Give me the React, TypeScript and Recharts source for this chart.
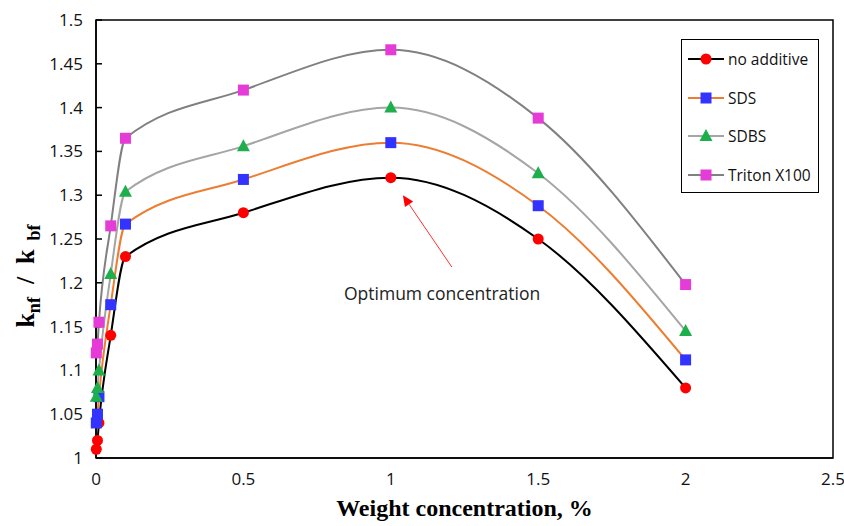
import React from 'react'
import {
  LineChart,
  Line,
  XAxis,
  YAxis,
  ReferenceArea,
  ReferenceLine,
  ReferenceDot,
} from 'recharts'

const concentrations = [0.001, 0.005, 0.01, 0.05, 0.1, 0.5, 1, 1.5, 2]
const noAdditive = [1.01, 1.02, 1.04, 1.14, 1.23, 1.28, 1.32, 1.25, 1.08]
const sds = [1.04, 1.05, 1.07, 1.175, 1.267, 1.318, 1.36, 1.288, 1.112]
const sdbs = [1.07, 1.08, 1.1, 1.21, 1.304, 1.356, 1.4, 1.325, 1.145]
const triton = [1.12, 1.13, 1.155, 1.265, 1.365, 1.42, 1.466, 1.388, 1.198]

const xTicks = [0, 0.5, 1, 1.5, 2, 2.5]
const yTicks = [1, 1.05, 1.1, 1.15, 1.2, 1.25, 1.3, 1.35, 1.4, 1.45, 1.5]

const data = concentrations.map((x, i) => ({
  x,
  noAdditive: noAdditive[i],
  sds: sds[i],
  sdbs: sdbs[i],
  triton: triton[i],
}))

type Marker = 'circle' | 'square' | 'triangle'

const series: { key: string; name: string; line: string; fill: string; marker: Marker }[] = [
  { key: 'noAdditive', name: 'no additive', line: '#000000', fill: '#FF0000', marker: 'circle' },
  { key: 'sds', name: 'SDS', line: '#ED7D31', fill: '#3333FF', marker: 'square' },
  { key: 'sdbs', name: 'SDBS', line: '#A5A5A5', fill: '#1DAF4C', marker: 'triangle' },
  { key: 'triton', name: 'Triton X100', line: '#808080', fill: '#E63CD7', marker: 'square' },
]

function drawMarker(kind: Marker, cx: number, cy: number, fill: string, key?: any) {
  if (kind === 'circle') return <circle key={key} cx={cx} cy={cy} r={5.5} fill={fill} />
  if (kind === 'square')
    return <rect key={key} x={cx - 5.5} y={cy - 5.5} width={11} height={11} fill={fill} />
  return (
    <polygon
      key={key}
      points={`${cx},${cy - 7} ${cx + 6.5},${cy + 5} ${cx - 6.5},${cy + 5}`}
      fill={fill}
    />
  )
}

const fmt = (v: number) => String(Math.round(v * 100) / 100)

const tickFont = { fill: '#111', fontSize: 17, fontFamily: '"Open Sans", sans-serif' }

function LegendBox() {
  return (
    <div
      style={{
        position: 'absolute',
        left: 681,
        top: 39,
        border: '1.5px solid #000',
        background: '#fff',
        width: 138,
        height: 154,
        boxSizing: 'border-box',
        fontFamily: '"Open Sans", sans-serif',
        fontSize: 15.5,
        color: '#111',
      }}
    >
      {series.map((s) => (
        <div key={s.key} style={{ display: 'flex', alignItems: 'center', height: 38.5, paddingLeft: 5 }}>
          <svg width={38} height={16} style={{ marginRight: 3 }}>
            <line x1={1} y1={8} x2={37} y2={8} stroke={s.line} strokeWidth={2} />
            {drawMarker(s.marker, 19, 8, s.fill)}
          </svg>
          <span>{s.name}</span>
        </div>
      ))}
    </div>
  )
}

function YLabel() {
  return (
    <text
      x={0}
      y={0}
      transform="translate(34, 276) rotate(-90)"
      textAnchor="middle"
      fontFamily='"Liberation Serif", serif'
      fontWeight="bold"
      fontSize={26}
      fill="#000"
      style={{ whiteSpace: 'pre' }}
    >
      k<tspan fontSize={18} dy={6}>nf</tspan>
      <tspan dy={-6}>{'  /  k'}</tspan>
      <tspan fontSize={18} dy={6}>{'  bf'}</tspan>
    </text>
  )
}

function Arrow(props: any) {
  const { x1, y1, x2, y2 } = props
  const ang = Math.atan2(y2 - y1, x2 - x1)
  const len = 11
  const w = 5
  const bx = x2 - len * Math.cos(ang)
  const by = y2 - len * Math.sin(ang)
  const px = -Math.sin(ang) * w
  const py = Math.cos(ang) * w
  return (
    <g>
      <line x1={x1} y1={y1} x2={bx} y2={by} stroke="#FF3030" strokeWidth={1} />
      <polygon points={`${x2},${y2} ${bx + px},${by + py} ${bx - px},${by - py}`} fill="#FF0000" />
    </g>
  )
}

export default function App() {
  return (
    <div style={{ position: 'absolute', left: 0, top: 0, width: 844, height: 526, background: '#fff' }}>
      <LineChart
        width={844}
        height={526}
        data={data}
        margin={{ top: 20, right: 11, bottom: 0, left: 0 }}
      >
        <ReferenceArea x1={0} x2={2.5} y1={1} y2={1.5} fill="none" stroke="#000" strokeWidth={1.5} />
        <XAxis
          type="number"
          dataKey="x"
          domain={[0, 2.5]}
          ticks={xTicks}
          tickFormatter={fmt}
          height={68}
          tickLine={false}
          tickMargin={9}
          axisLine={{ stroke: '#000', strokeWidth: 1.5 }}
          tick={tickFont}
          label={{
            value: 'Weight concentration, %',
            position: 'insideBottom',
            offset: 10,
            fill: '#000',
            fontSize: 24,
            fontWeight: 'bold',
            fontFamily: '"Liberation Serif", serif',
          }}
        />
        <YAxis
          type="number"
          domain={[1, 1.5]}
          ticks={yTicks}
          tickFormatter={fmt}
          width={96}
          tickSize={-6}
          tickMargin={19}
          tickLine={{ stroke: '#000', strokeWidth: 1.5 }}
          axisLine={{ stroke: '#000', strokeWidth: 1.5 }}
          tick={tickFont}
          label={<YLabel />}
        />
        {series.map((s) => (
          <Line
            key={s.key}
            type="monotone"
            dataKey={s.key}
            name={s.name}
            stroke={s.line}
            strokeWidth={2}
            isAnimationActive={false}
            dot={(p: any) => drawMarker(s.marker, p.cx, p.cy, s.fill, `${s.key}-${p.index}`)}
            activeDot={false}
          />
        ))}
        <ReferenceLine
          segment={[
            { x: 1.207, y: 1.218 },
            { x: 1.041, y: 1.3 },
          ]}
          shape={<Arrow />}
        />
        <ReferenceDot
          x={1.174}
          y={1.188}
          r={0}
          fill="none"
          stroke="none"
          label={{
            value: 'Optimum concentration',
            position: 'center',
            fill: '#222',
            fontSize: 17.5,
            fontFamily: '"Open Sans", sans-serif',
          }}
        />
      </LineChart>
      <LegendBox />
    </div>
  )
}
